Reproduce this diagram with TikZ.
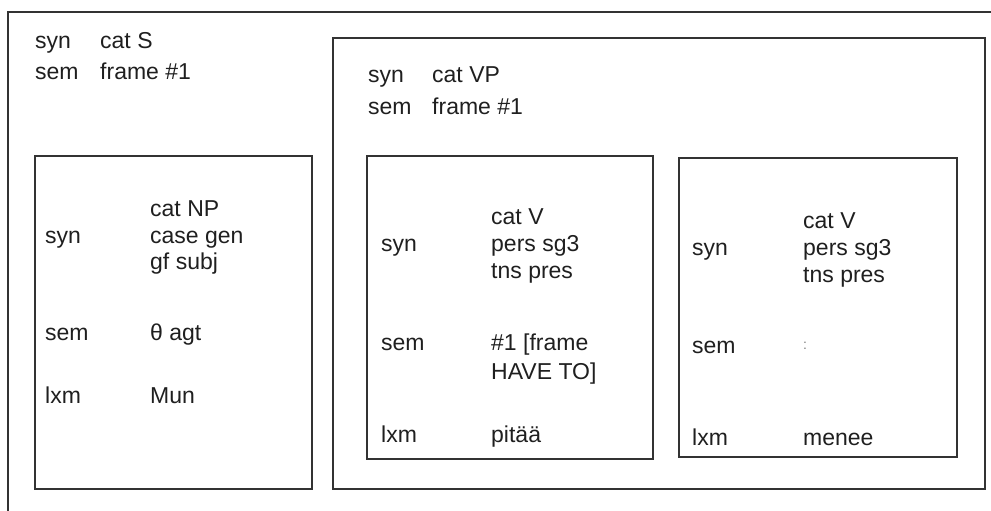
\documentclass[tikz,border=0pt]{standalone}
\usepackage{fontspec}
\setmainfont{Liberation Sans}
\begin{document}
\begin{tikzpicture}[x=1pt,y=-1pt,
  frame/.style={draw=black!80, line width=1.6pt},
  txt/.style={anchor=base west, inner sep=0pt, font=\fontsize{23}{27}\selectfont, text=black!88}]
\useasboundingbox (0,0) rectangle (991,511);

% outer structure (S): only its top and left sides lie on the page
\draw[frame] (8,520) -- (8,12) -- (1000,12);
\node[txt] (s-syn)  at (35,49) {syn};
\node[txt] (s-cat)  at (100,49) {cat S};
\node[txt] (s-sem)  at (35,80) {sem};
\node[txt] (s-frm)  at (100,80) {frame \#1};

% VP
\draw[frame] (333,38) rectangle (985,489);
\node[txt] (vp-syn) at (368,83) {syn};
\node[txt] (vp-cat) at (432,83) {cat VP};
\node[txt] (vp-sem) at (368,114) {sem};
\node[txt] (vp-frm) at (432,114) {frame \#1};

% NP
\draw[frame] (35,156) rectangle (312,489);
\node[txt] (np-cat)  at (150,216) {cat NP};
\node[txt] (np-syn)  at (45,243) {syn};
\node[txt] (np-case) at (150,243) {case gen};
\node[txt] (np-gf)   at (150,269) {gf subj};
\node[txt] (np-sem)  at (45,340) {sem};
\node[txt] (np-th)   at (150,340) {θ agt};
\node[txt] (np-lxm)  at (45,403) {lxm};
\node[txt] (np-mun)  at (150,403) {Mun};

% V: pitää
\draw[frame] (367,156) rectangle (653,459);
\node[txt] (va-cat)  at (491,224) {cat V};
\node[txt] (va-syn)  at (381,251) {syn};
\node[txt] (va-pers) at (491,251) {pers sg3};
\node[txt] (va-tns)  at (491,278) {tns pres};
\node[txt] (va-sem)  at (381,350) {sem};
\node[txt] (va-fr)   at (491,350) {\#1 [frame};
\node[txt] (va-have) at (491,379) {HAVE TO]};
\node[txt] (va-lxm)  at (381,442) {lxm};
\node[txt] (va-pit)  at (491,442) {pitää};

% V: menee
\draw[frame] (679,158) rectangle (957,457);
\node[txt] (vb-cat)  at (803,228) {cat V};
\node[txt] (vb-syn)  at (692,255) {syn};
\node[txt] (vb-pers) at (803,255) {pers sg3};
\node[txt] (vb-tns)  at (803,282) {tns pres};
\node[txt] (vb-sem)  at (692,353) {sem};
\node[txt, font=\fontsize{14}{16}\selectfont, text=black!50] (vb-col) at (803,349) {:};
\node[txt] (vb-lxm)  at (692,445) {lxm};
\node[txt] (vb-men)  at (803,445) {menee};
\end{tikzpicture}
\end{document}
